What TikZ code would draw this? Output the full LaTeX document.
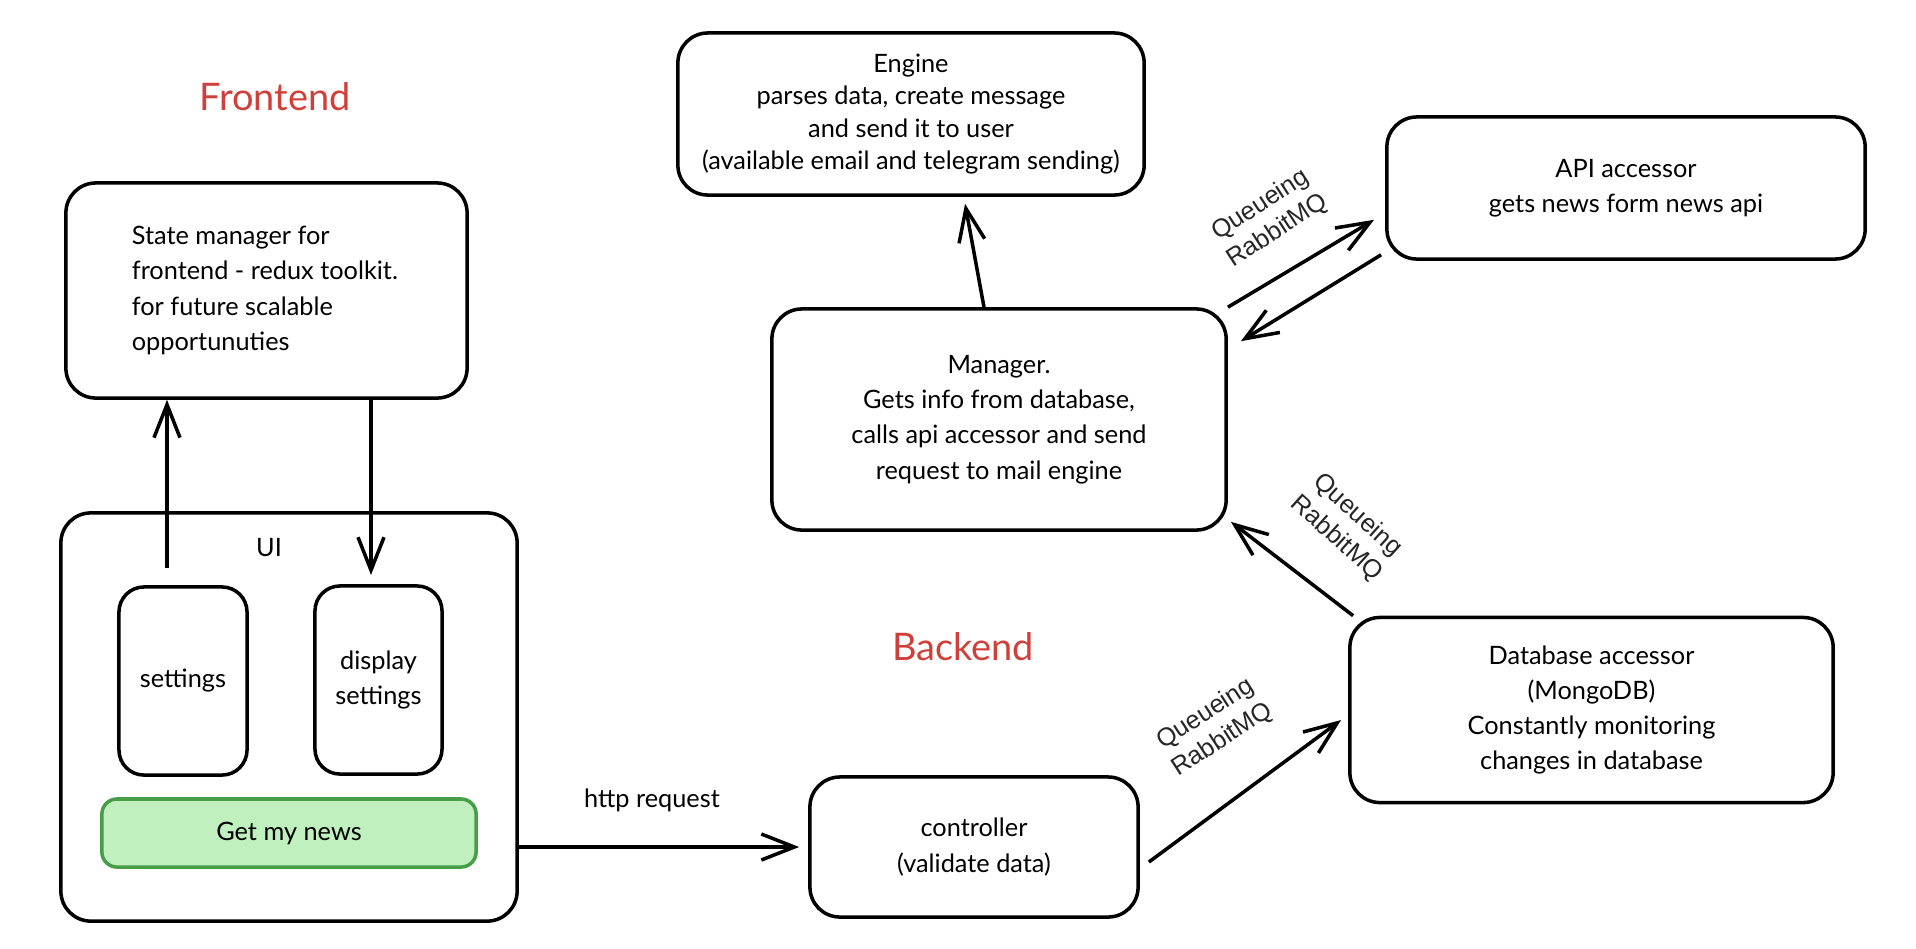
\documentclass[tikz,border=0pt]{standalone}
\usepackage{fontspec}
\setmainfont{Lato}
\newfontfamily\queuefont{Liberation Sans}
\usetikzlibrary{arrows.meta}
\definecolor{titlered}{RGB}{208,64,58}
\definecolor{newsfill}{RGB}{191,240,190}
\definecolor{newsdraw}{RGB}{72,158,72}

\begin{document}
\begin{tikzpicture}[x=0.01cm, y=-0.01cm,
    box/.style={draw, line width=1pt, rounded corners=0.3cm, align=center,
        font=\fontsize{7.2}{10}\selectfont},
    txt/.style={font=\fontsize{7.2}{10}\selectfont},
    flow/.style={line width=1pt, -{Straight Barb[length=0.33cm,width=0.26cm]}},
    title/.style={font=\fontsize{10.8}{13}\selectfont, text=titlered},
    queue/.style={font=\queuefont\fontsize{7.2}{8.8}\selectfont, align=center, text=black!85}]
        \useasboundingbox (0,0) rectangle (1916,948);

        % Titles
        \node[title] (front) at (275, 97) {Frontend};
        \node[title] (back) at (963, 647) {Backend};

        % State manager
        \node[box, minimum width=4.01cm, minimum height=2.15cm] (state) at (266.5, 290.5) {};
        \node[txt, anchor=west, align=left, inner xsep=0pt] (statetext) at ([xshift=0.67cm]state.west)
            {State manager for\\frontend - redux toolkit.\\for future scalable\\opportunuties};

        % UI
        \node[box, minimum width=4.56cm, minimum height=4.08cm] (ui) at (289, 717) {};
        \node[txt] (uilabel) at (269, 548) {UI};
        \node[box, rounded corners=0.25cm, minimum width=1.28cm, minimum height=1.88cm] (settings) at (183, 681) {settings};
        \node[box, rounded corners=0.25cm, minimum width=1.27cm, minimum height=1.88cm] (display) at (378.5, 680) {display\\settings};
        \node[box, draw=newsdraw, fill=newsfill, rounded corners=0.15cm,
            minimum width=3.74cm, minimum height=0.68cm] (news) at (289, 833) {Get my news};

        % State <-> UI
        \coordinate (uiout) at (167, 568);
        \coordinate (dispin) at (371, 575);
        \draw[flow] (uiout) -- (uiout |- state.south);
        \draw[flow] (dispin |- state.south) -- (dispin);

        % Backend boxes
        \node[box, minimum width=4.66cm, minimum height=1.62cm, font=\fontsize{7.2}{9.2}\selectfont] (engine) at (911, 114)
            {Engine\\parses data, create message\\and send it to user\\(available email and telegram sending)};
        \node[box, minimum width=4.54cm, minimum height=2.21cm] (manager) at (999, 419.5)
            {Manager.\\Gets info from database,\\calls api accessor and send\\request to mail engine};
        \node[box, minimum width=4.78cm, minimum height=1.42cm] (api) at (1626, 188)
            {API accessor\\gets news form news api};
        \node[box, minimum width=4.83cm, minimum height=1.85cm] (db) at (1591.5, 710)
            {Database accessor\\(MongoDB)\\Constantly monitoring\\changes in database};
        \node[box, minimum width=3.28cm, minimum height=1.40cm] (ctrl) at (974, 847)
            {controller\\(validate data)};

        % Connectors
        \draw[flow] (ui.east |- ctrl.west) -- ([xshift=-0.09cm]ctrl.west);
        \node[txt] (http) at (652, 800) {http request};
        \draw[flow] ([xshift=-0.15cm]manager.north) -- ([xshift=0.54cm,yshift=-0.07cm]engine.south);
        \draw[flow] (manager.north east) -- ([xshift=-0.11cm,yshift=0.41cm]api.south west);
        \draw[flow] ([xshift=-0.04cm,yshift=0.06cm]api.south west) -- ([xshift=0.13cm,yshift=-0.34cm]manager.north east);
        \draw[flow] ([xshift=0.05cm]db.north west) -- ([xshift=0.03cm,yshift=0.1cm]manager.south east);
        \draw[flow] ([xshift=0.09cm,yshift=-0.15cm]ctrl.east) -- ([xshift=-0.07cm,yshift=-0.1cm]db.west);

        % Queue labels
        \node[queue, rotate=33] (qapi) at (1269, 218) {Queueing\\RabbitMQ};
        \node[queue, rotate=-42] (qdb) at (1347, 527) {Queueing\\RabbitMQ};
        \node[queue, rotate=33] (qctrl) at (1214, 727) {Queueing\\RabbitMQ};

    \end{tikzpicture}
\end{document}
